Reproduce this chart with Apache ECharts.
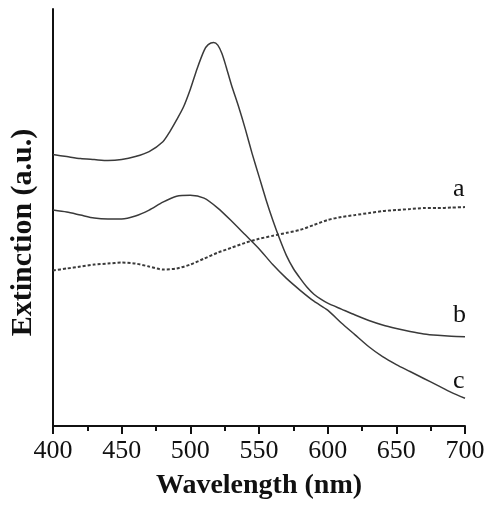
<!DOCTYPE html>
<html>
<head>
<meta charset="utf-8">
<script src="https://cdn.jsdelivr.net/npm/echarts@6/dist/echarts.min.js"></script>
<style>html,body{margin:0;padding:0;background:#fff}#c{width:488px;height:505px}</style>
</head>
<body>
<div id="c"></div>
<script>
// Curve a (dotted)
const wlA = [400,410,420,430,440,450,460,470,480,490,500,510,520,530,540,550,560,570,580,590,600,610,620,630,640,650,660,670,680,690,700];
const extA = [157,159,161,163,164,165,164,161,158,159,163,169,175,180,185,189,192,195,198,203,208,211,213,215,217,218,219,220,220,220.5,221];
// Curve b (upper solid, sharp peak)
const wlB = [400,410,420,430,440,450,460,470,480,485,490,495,500,505,510,513,517,520,523,526,530,535,540,545,550,555,560,565,570,575,580,585,590,595,600,610,620,630,640,650,660,670,680,690,700];
const extB = [274,272,270,269,268,269,272,277,287,297,309,322,340,361,379,385,387.3,384.5,376,363,344,323,300,275,252,229,208,189,172,159,149,140,133,128,124,118,112,106.5,102,98.5,95.5,93,91.5,90.5,90];
// Curve c (middle solid, broad peak)
const wlC = [400,410,420,430,440,450,460,470,480,490,500,510,520,530,540,550,560,570,580,590,600,610,620,630,640,650,660,670,680,690,700];
const extC = [218,216,213,210,209,209,212,218,226,232,233,230,220,207,193,179,163,149,137,126,117,104,92,80,70,62,55,48,41,34,28];
const xTicks = {min:400, max:700, interval:50};
const curveLabels = ['a','b','c'];

const serif = '"Liberation Serif","Times New Roman",serif';
function pairs(w, v){ return w.map((x,i)=>[x, v[i]]); }
function mkSeries(name, w, v, dashed, offY){
  return {
    name, type:'line', data:pairs(w,v), smooth:0.25, symbol:'none',
    lineStyle:{color:'#3a3a3a', width:dashed?2:1.5, type:dashed?[3,2]:'solid'},
    endLabel:{show:true, formatter:name, fontFamily:serif, fontSize:26, color:'#111', offset:[-20, offY]},
    animation:false
  };
}
const chart = echarts.init(document.getElementById('c'));
chart.setOption({
  animation:false,
  grid:{left:53, right:23, top:9, bottom:75},
  xAxis:{
    type:'value', min:xTicks.min, max:xTicks.max, interval:xTicks.interval,
    name:'Wavelength (nm)', nameLocation:'middle', nameGap:46,
    nameTextStyle:{fontFamily:serif, fontSize:28, fontWeight:'bold', color:'#111'},
    axisLine:{show:true, lineStyle:{color:'#111', width:2}},
    axisTick:{show:true, length:8, lineStyle:{color:'#111', width:2}},
    minorTick:{show:true, splitNumber:2, length:5, lineStyle:{color:'#111', width:2}},
    axisLabel:{fontFamily:serif, fontSize:26, color:'#111', margin:12},
    splitLine:{show:false}
  },
  yAxis:{
    type:'value', min:0, max:421,
    name:'Extinction (a.u.)', nameLocation:'middle', nameGap:15,
    nameTextStyle:{fontFamily:serif, fontSize:30, fontWeight:'bold', color:'#111', padding:[0,30,0,0]},
    axisLine:{show:true, lineStyle:{color:'#111', width:2}},
    axisTick:{show:false}, axisLabel:{show:false}, splitLine:{show:false}
  },
  series:[
    mkSeries(curveLabels[0], wlA, extA, true, -18),
    mkSeries(curveLabels[1], wlB, extB, false, -22),
    mkSeries(curveLabels[2], wlC, extC, false, -17)
  ]
});
</script>
</body>
</html>
